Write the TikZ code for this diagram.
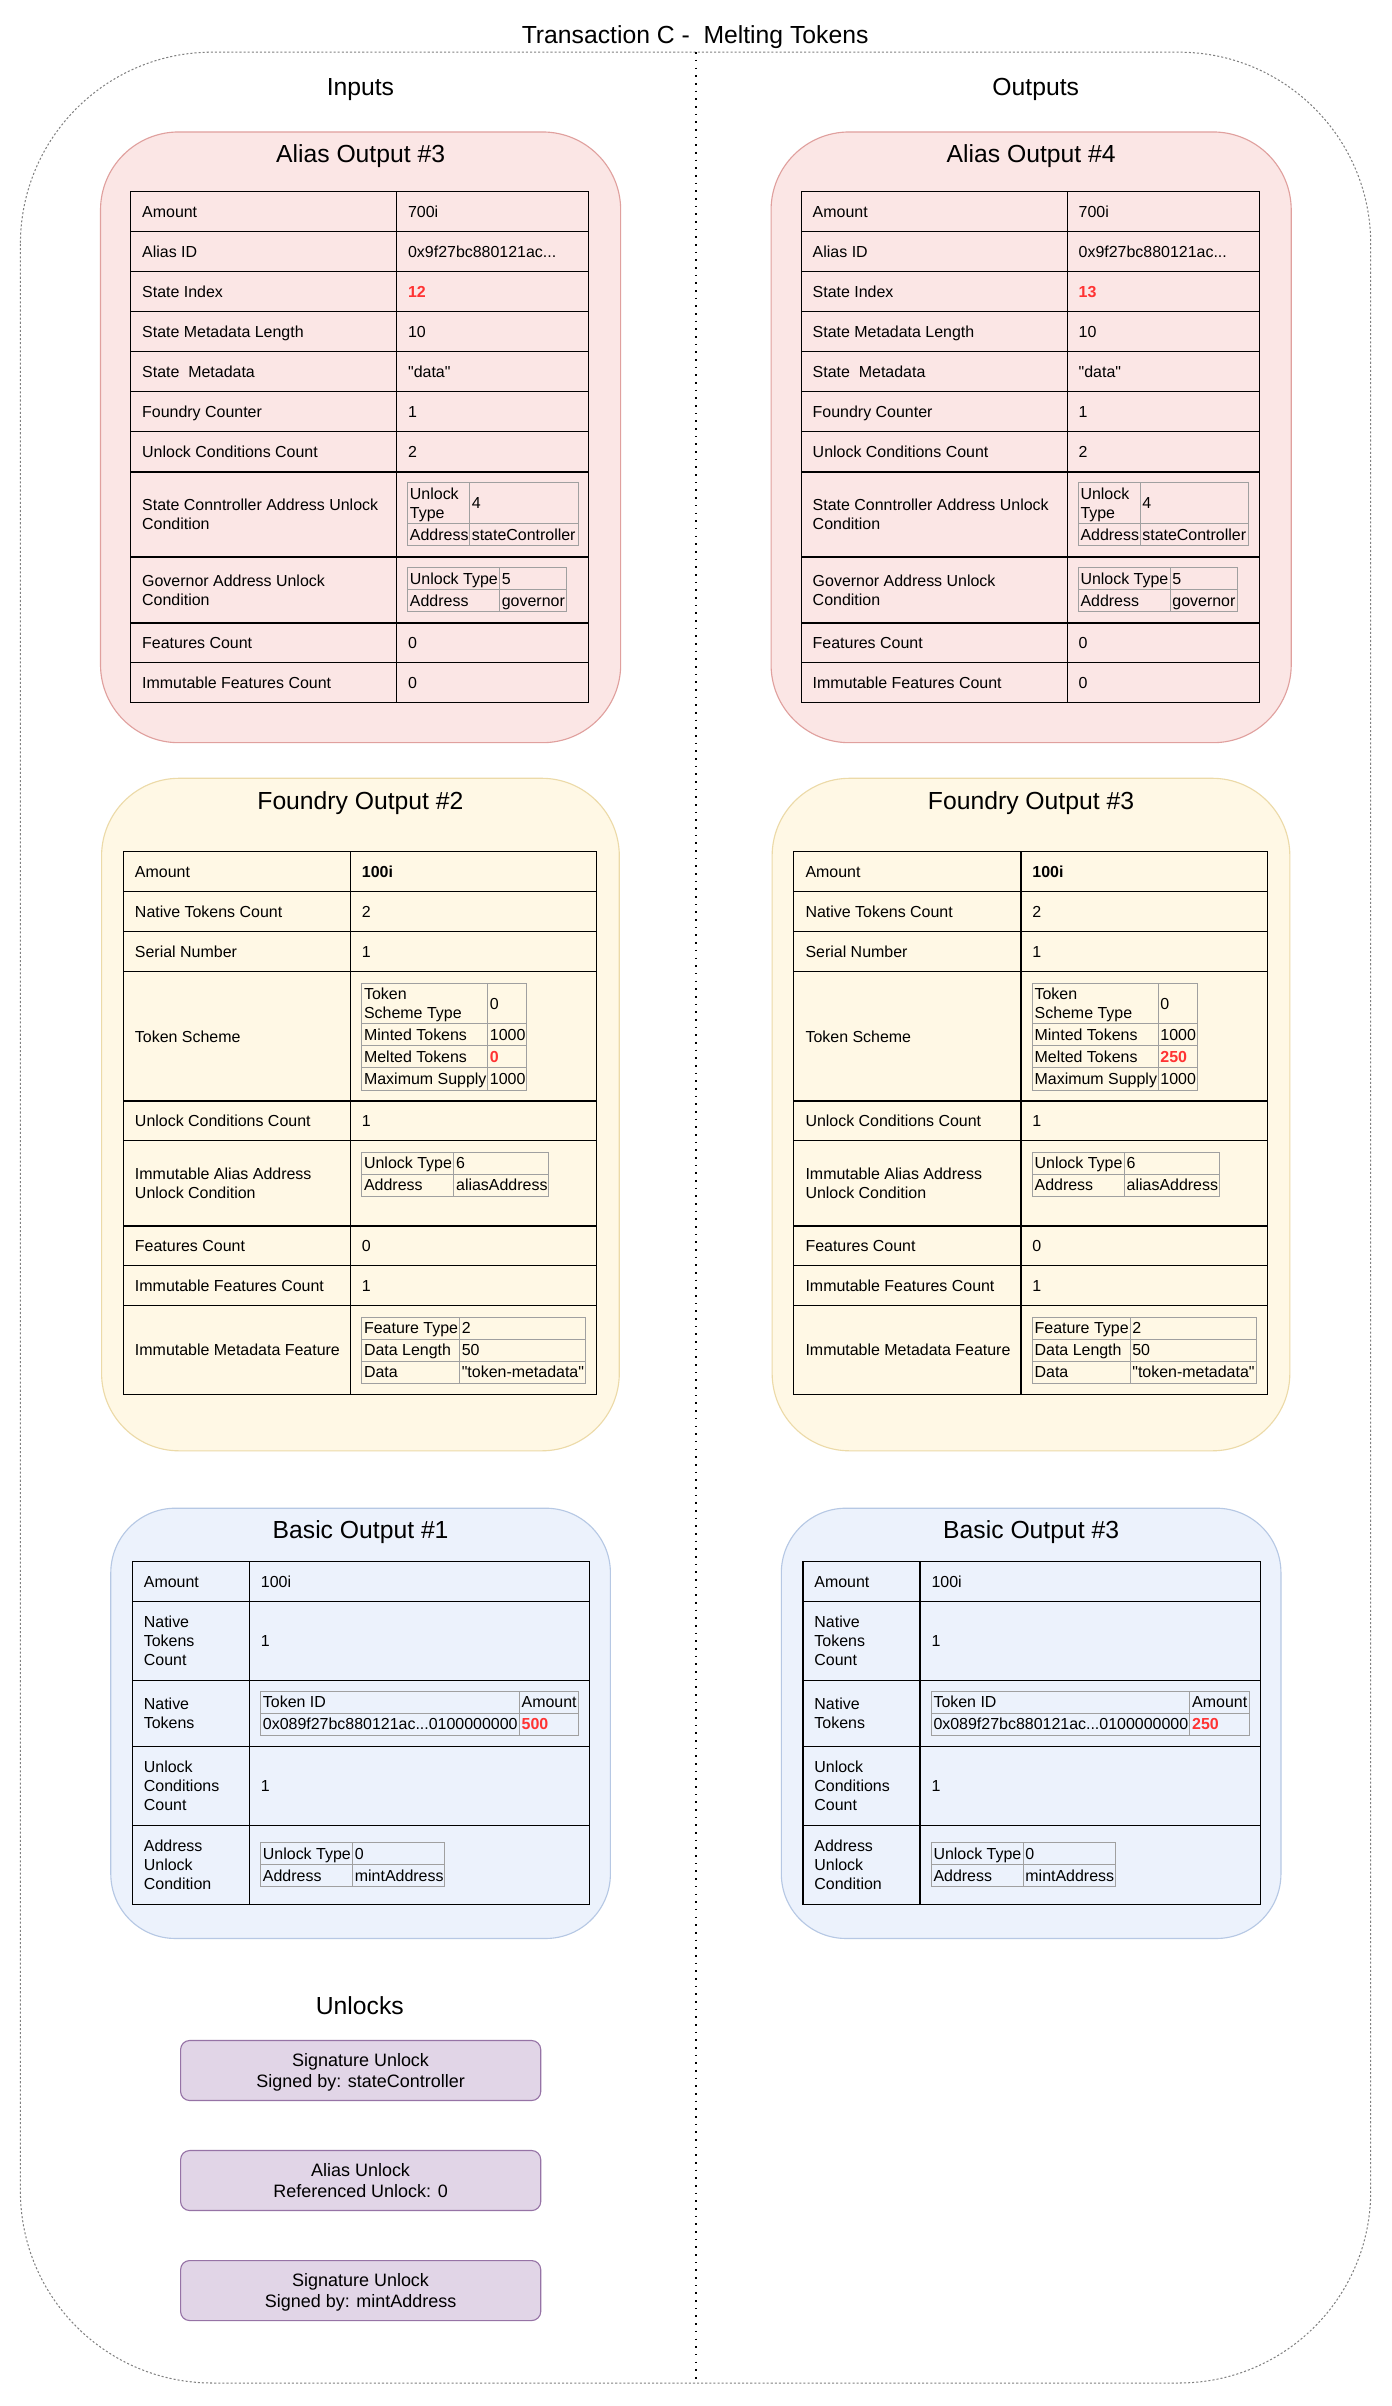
\documentclass[tikz,border=0pt]{standalone}
\usepackage{fontspec}
\newfontfamily\lsans{Liberation Sans}
\definecolor{aliasfill}{RGB}{251,230,229}
\definecolor{aliasdraw}{RGB}{224,160,158}
\definecolor{foundryfill}{RGB}{255,248,229}
\definecolor{foundrydraw}{RGB}{236,218,168}
\definecolor{basicfill}{RGB}{236,242,252}
\definecolor{basicdraw}{RGB}{182,200,228}
\definecolor{unlockfill}{RGB}{225,213,231}
\definecolor{unlockdraw}{RGB}{150,115,166}
\definecolor{nestgrey}{RGB}{160,160,160}
\definecolor{outergrey}{RGB}{128,128,128}
\definecolor{redv}{RGB}{255,51,51}
\tikzset{
  body/.style={font=\lsans\fontsize{7.8pt}{9.4pt}\selectfont, inner sep=0pt, anchor=base west},
  head/.style={font=\lsans\fontsize{12.08pt}{14.5pt}\selectfont, inner sep=0pt, anchor=base},
  ulk/.style={font=\lsans\fontsize{8.78pt}{10.6pt}\selectfont, inner sep=0pt, anchor=base},
  tbl/.style={draw=black, line width=0.55pt},
  nst/.style={draw=nestgrey, line width=0.5pt},
  aliasbox/.style={fill=aliasfill, draw=aliasdraw, line width=0.55pt},
  foundrybox/.style={fill=foundryfill, draw=foundrydraw, line width=0.55pt},
  basicbox/.style={fill=basicfill, draw=basicdraw, line width=0.55pt},
  unlockbox/.style={fill=unlockfill, draw=unlockdraw, line width=0.55pt},
  outerbox/.style={draw=outergrey, line width=0.5pt, dash pattern=on 1pt off 1pt},
  divider/.style={draw=black, line width=1pt, dash pattern=on 0.8pt off 2.95pt},
}
% text helpers: name, x, y of cap centre, lines
\newcommand\tA[4]{\node[body] (#1) at (#2,{#3+3.72}) {#4};}
\newcommand\tB[5]{\node[body] (#1a) at (#2,{#3-6.2+3.72}) {#4};\node[body] (#1b) at (#2,{#3+6.2+3.72}) {#5};}
\newcommand\tC[6]{\node[body] (#1a) at (#2,{#3-12.4+3.72}) {#4};\node[body] (#1b) at (#2,{#3+3.72}) {#5};\node[body] (#1c) at (#2,{#3+12.4+3.72}) {#6};}
\newcommand\rd[1]{\textcolor{redv}{\bfseries #1}}
% grid: style, x0, xsplit, x1, ytop, ybot, inner ys
\newcommand\grid[7]{%
  \draw[#1] (#2,#5) rectangle (#4,#6);
  \draw[#1] (#3,#5) -- (#3,#6);
  \foreach \yy in {#7} {\draw[#1] (#2,\yy) -- (#4,\yy);}
}
% rounded rectangle: style, x0, y0, x1, y1, r
\newcommand\qrect[6]{%
  \path[#1, rounded corners={#6*0.75pt}] (#2,#3) rectangle (#4,#5);
}
\newcommand\aliasside[3]{%
  \qrect{aliasbox}{65.5}{86}{404.5}{484}{50.9}
  \node[head] (#1title) at (235,105.8) {Alias Output \##3};
  \grid{tbl}{85.2}{258.6}{383.6}{125}{457.8}{151.08,177.16,203.24,229.32,255.4,281.48,307.56,363,406,431.9}
  \tA{#1l1}{92.4}{138.04}{Amount}\tA{#1v1}{265.7}{138.04}{700i}
  \tA{#1l2}{92.4}{164.12}{Alias ID}\tA{#1v2}{265.7}{164.12}{0x9f27bc880121ac...}
  \tA{#1l3}{92.4}{190.2}{State Index}\tA{#1v3}{265.7}{190.2}{\rd{#2}}
  \tA{#1l4}{92.4}{216.28}{State Metadata Length}\tA{#1v4}{265.7}{216.28}{10}
  \tA{#1l5}{92.4}{242.36}{State\ \ Metadata}\tA{#1v5}{265.7}{242.36}{"data"}
  \tA{#1l6}{92.4}{268.44}{Foundry Counter}\tA{#1v6}{265.7}{268.44}{1}
  \tA{#1l7}{92.4}{294.52}{Unlock Conditions Count}\tA{#1v7}{265.7}{294.52}{2}
  \tB{#1l8}{92.4}{335.28}{State Conntroller Address Unlock}{Condition}
  \grid{nst}{265.6}{306.0}{376.7}{314.5}{355.6}{341.2}
  \tB{#1n1}{266.9}{327.85}{Unlock}{Type}\tA{#1n2}{307.2}{327.85}{4}
  \tA{#1n3}{266.9}{348.4}{Address}\tA{#1n4}{307.2}{348.4}{stateController}
  \tB{#1l9}{92.4}{384.5}{Governor Address Unlock}{Condition}
  \grid{nst}{265.6}{325.6}{369.5}{369.9}{398.7}{384.3}
  \tA{#1g1}{266.9}{377.1}{Unlock Type}\tA{#1g2}{326.8}{377.1}{5}
  \tA{#1g3}{266.9}{391.5}{Address}\tA{#1g4}{326.8}{391.5}{governor}
  \tA{#1l10}{92.4}{418.95}{Features Count}\tA{#1v10}{265.7}{418.95}{0}
  \tA{#1l11}{92.4}{444.85}{Immutable Features Count}\tA{#1v11}{265.7}{444.85}{0}
}
\newcommand\foundryside[3]{%
  \qrect{foundrybox}{66.2}{507.2}{403.6}{945.5}{50.6}
  \node[head] (#1title) at (234.9,527.26) {Foundry Output \##3};
  \grid{tbl}{80.4}{228.4}{388.9}{555.2}{908.7}{581.2,607.2,633.2,717.5,743.5,799,825,851}
  \tA{#1l1}{87.7}{568.2}{Amount}\tA{#1v1}{235.6}{568.2}{\textbf{100i}}
  \tA{#1l2}{87.7}{594.2}{Native Tokens Count}\tA{#1v2}{235.6}{594.2}{2}
  \tA{#1l3}{87.7}{620.2}{Serial Number}\tA{#1v3}{235.6}{620.2}{1}
  \tA{#1l4}{87.7}{675.35}{Token Scheme}
  \grid{nst}{235.7}{317.8}{343.2}{640.7}{710.4}{667.2,681.6,696.0}
  \tB{#1t1}{237.0}{653.95}{Token}{Scheme Type}\tA{#1t2}{319.0}{653.95}{0}
  \tA{#1t3}{237.0}{674.4}{Minted Tokens}\tA{#1t4}{319.0}{674.4}{1000}
  \tA{#1t5}{237.0}{688.8}{Melted Tokens}\tA{#1t6}{319.0}{688.8}{\rd{#2}}
  \tA{#1t7}{237.0}{703.2}{Maximum Supply}\tA{#1t8}{319.0}{703.2}{1000}
  \tA{#1l5}{87.7}{730.5}{Unlock Conditions Count}\tA{#1v5}{235.6}{730.5}{1}
  \tB{#1l6}{87.7}{771.25}{Immutable Alias Address}{Unlock Condition}
  \grid{nst}{235.7}{295.8}{357.6}{750.9}{779.5}{765.2}
  \tA{#1a1}{237.0}{758.05}{Unlock Type}\tA{#1a2}{297.0}{758.05}{6}
  \tA{#1a3}{237.0}{772.35}{Address}\tA{#1a4}{297.0}{772.35}{aliasAddress}
  \tA{#1l7}{87.7}{812}{Features Count}\tA{#1v7}{235.6}{812}{0}
  \tA{#1l8}{87.7}{838}{Immutable Features Count}\tA{#1v8}{235.6}{838}{1}
  \tA{#1l9}{87.7}{879.85}{Immutable Metadata Feature}
  \grid{nst}{235.7}{299.5}{381.6}{858.4}{901.3}{872.7,887.0}
  \tA{#1m1}{237.0}{865.55}{Feature Type}\tA{#1m2}{300.7}{865.55}{2}
  \tA{#1m3}{237.0}{879.85}{Data Length}\tA{#1m4}{300.7}{879.85}{50}
  \tA{#1m5}{237.0}{894.15}{Data}\tA{#1m6}{300.7}{894.15}{"token-metadata"}
}
\newcommand\basicside[3]{%
  \qrect{basicbox}{72.2}{982.9}{397.8}{1263.3}{42.1}
  \node[head] (#1title) at (235,1002.86) {Basic Output \##3};
  \grid{tbl}{86.3}{162.6}{384.3}{1017.7}{1241.1}{1043.5,1095.0,1138.1,1189.6}
  \tA{#1l1}{93.5}{1030.6}{Amount}\tA{#1v1}{169.8}{1030.6}{100i}
  \tC{#1l2}{93.5}{1069.25}{Native}{Tokens}{Count}\tA{#1v2}{169.8}{1069.25}{1}
  \tB{#1l3}{93.5}{1116.55}{Native}{Tokens}
  \grid{nst}{169.8}{338.4}{377.3}{1102.2}{1130.9}{1116.5}
  \tA{#1k1}{171.1}{1109.35}{Token ID}\tA{#1k2}{339.7}{1109.35}{Amount}
  \tA{#1k3}{171.1}{1123.7}{0x089f27bc880121ac...0100000000}\tA{#1k4}{339.7}{1123.7}{\rd{#2}}
  \tC{#1l4}{93.5}{1163.85}{Unlock}{Conditions}{Count}\tA{#1v4}{169.8}{1163.85}{1}
  \tC{#1l5}{93.5}{1215.35}{Address}{Unlock}{Condition}
  \grid{nst}{169.8}{229.7}{289.7}{1200.7}{1229.4}{1215.0}
  \tA{#1u1}{171.1}{1207.85}{Unlock Type}\tA{#1u2}{231.0}{1207.85}{0}
  \tA{#1u3}{171.1}{1222.2}{Address}\tA{#1u4}{231.0}{1222.2}{mintAddress}
}
\newcommand\unlockbox[5]{% name, ytop, ybot, line1, line2
  \qrect{unlockbox}{117.7}{#2}{352.4}{#3}{5.9}
  \node[ulk] (#1a) at (235,{(#2+#3)/2-7.05+4.19}) {#4};
  \node[ulk] (#1b) at (235,{(#2+#3)/2+7.05+4.19}) {#5};
}
\begin{document}
\begin{tikzpicture}[x=0.75pt,y=-0.75pt]
\fill[white] (0,0) rectangle (907,1568);
\useasboundingbox (0,0) rectangle (907,1568);
\qrect{outerbox}{13.3}{34}{893.3}{1553}{125}
\coordinate (divtop) at (453.5,34);
\coordinate (divbot) at (453.5,1553);
\draw[divider] (divtop) -- (divbot);
\node[head] (title) at (453,28.36) {Transaction C -\ \ Melting Tokens};
\node[head] (inputs) at (234.9,61.96) {Inputs};
\node[head] (outputs) at (675,61.96) {Outputs};
\aliasside{LA}{12}{3}
\foundryside{LF}{0}{2}
\basicside{LB}{500}{1}
\begin{scope}[shift={(437,0)}]
\aliasside{RA}{13}{4}
\foundryside{RF}{250}{3}
\basicside{RB}{250}{3}
\end{scope}
\node[head] (unlocks) at (234.5,1312.96) {Unlocks};
\unlockbox{ua}{1329.8}{1368.9}{Signature Unlock}{Signed by: stateController}
\unlockbox{ub}{1401.5}{1440.6}{Alias Unlock}{Referenced Unlock: 0}
\unlockbox{uc}{1473.2}{1512.3}{Signature Unlock}{Signed by: mintAddress}
\end{tikzpicture}
\end{document}
